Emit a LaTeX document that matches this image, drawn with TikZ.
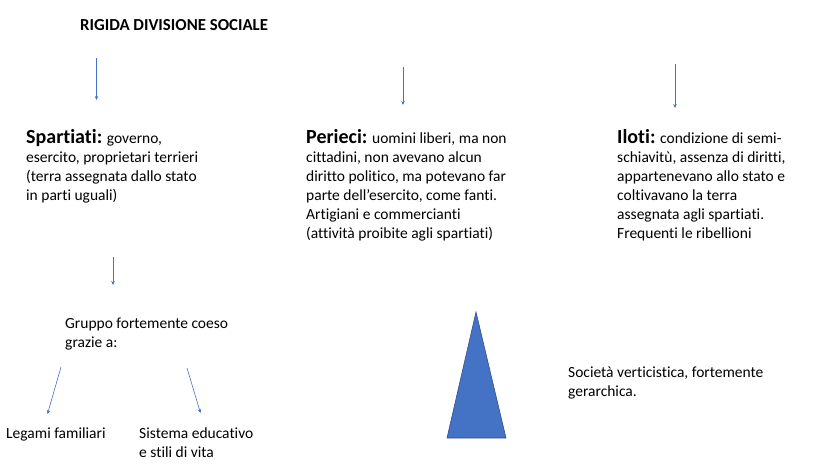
\documentclass[tikz,border=0pt]{standalone}
\usepackage{fontspec}
\setmainfont{Carlito}[Ligatures=NoCommon]
\usetikzlibrary{arrows.meta}
\definecolor{accent}{HTML}{4472C4}
\definecolor{accentdark}{HTML}{2F528F}
\tikzset{
  txt/.style={anchor=base west, inner sep=0pt, align=left, font=\fontsize{15.5}{19}\selectfont},
  conn/.style={draw=accent, line width=0.6pt, -{Stealth[length=4pt,width=3.5pt]}},
}
\newcommand{\hd}[1]{{\fontsize{20}{19}\selectfont\bfseries #1}}
\begin{document}
\begin{tikzpicture}[x=1pt,y=-1pt]
\useasboundingbox (0,0) rectangle (828,466);
% base anchor of a multi-line node = baseline of its last line
\node[txt, font=\fontsize{16.8}{19}\selectfont\bfseries] (title) at (80,30) {RIGIDA DIVISIONE SOCIALE};
\node[txt] (spart) at (26,200) {\hd{Spartiati:} governo,\\esercito, proprietari terrieri\\(terra assegnata dallo stato\\in parti uguali)};
\node[txt] (peri) at (306,238) {\hd{Perieci:} uomini liberi, ma non\\cittadini, non avevano alcun\\diritto politico, ma potevano far\\parte dell’esercito, come fanti.\\Artigiani e commercianti\\(attività proibite agli spartiati)};
\node[txt] (iloti) at (617,238) {\hd{Iloti:} condizione di semi-\\schiavitù, assenza di diritti,\\appartenevano allo stato e\\coltivavano la terra\\assegnata agli spartiati.\\Frequenti le ribellioni};
\node[txt] (gruppo) at (65,347) {Gruppo fortemente coeso\\grazie a:};
\node[txt] (legami) at (6,438) {Legami familiari};
\node[txt] (sistema) at (139,457) {Sistema educativo\\e stili di vita};
\node[txt] (soc) at (568,396) {Società verticistica, fortemente\\gerarchica.};
\coordinate (a1s) at (96.5,58); \coordinate (a1e) at (96.5,100);
\coordinate (a2s) at (403,67); \coordinate (a2e) at (403,105);
\coordinate (a3s) at (675,64); \coordinate (a3e) at (675,108);
\coordinate (a4s) at (113,257); \coordinate (a4e) at (113,285);
\coordinate (a5s) at (61,367); \coordinate (a5e) at (47.5,414);
\coordinate (a6s) at (187,368); \coordinate (a6e) at (200.5,413);
\draw[conn] (a1s) -- (a1e);
\draw[conn] (a2s) -- (a2e);
\draw[conn] (a3s) -- (a3e);
\draw[conn] (a4s) -- (a4e);
\draw[conn] (a5s) -- (a5e);
\draw[conn] (a6s) -- (a6e);
\coordinate (tA) at (476,312); \coordinate (tB) at (447,438); \coordinate (tC) at (506,438);
\draw[fill=accent, draw=accentdark, line width=0.6pt] (tA) -- (tB) -- (tC) -- cycle;
\end{tikzpicture}
\end{document}
